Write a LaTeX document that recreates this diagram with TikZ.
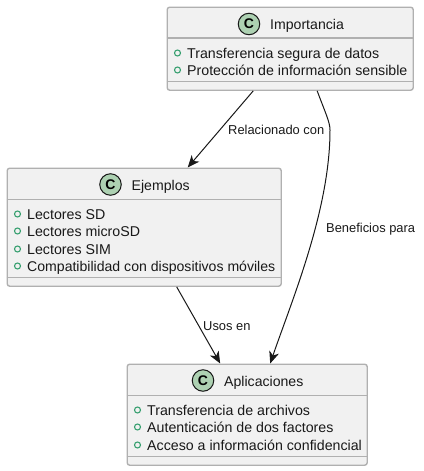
\documentclass[tikz,border=0pt]{standalone}
\usepackage{fontspec}
\setmainfont{Liberation Sans}
\usetikzlibrary{arrows.meta,calc}
\definecolor{boxfill}{HTML}{F1F1F1}
\definecolor{boxline}{HTML}{B0B0B0}
\definecolor{circfill}{HTML}{ADD1B2}
\definecolor{inkline}{HTML}{181818}
\definecolor{attr}{HTML}{38A070}
\tikzset{
  x=1pt,y=-1pt,
  classbox/.style={draw=boxline,fill=boxfill,line width=1.4pt,rounded corners=2.5pt,minimum width=#1,inner sep=0pt,anchor=north west},
  title/.style={font=\fontsize{14.1}{16}\selectfont,text=black!90,anchor=base west,inner sep=0pt},
  member/.style={font=\fontsize{14.2}{16}\selectfont,text=black!90,anchor=base west,inner sep=0pt},
  edgelabel/.style={font=\fontsize{12.9}{14}\selectfont,text=black!90,anchor=base west,inner sep=0pt},
  badge/.style={circle,draw=inkline,fill=circfill,line width=1pt,minimum size=21.5pt,inner sep=0pt,font=\fontsize{14}{14}\selectfont\bfseries},
  bullet/.style={circle,draw=attr,line width=1.1pt,fill=none,minimum size=6pt,inner sep=0pt},
  sep/.style={draw=boxline,line width=1.4pt},
  conn/.style={draw=inkline,line width=1pt,-{Stealth[length=12pt,width=10pt,inset=3.5pt]}}
}
\begin{document}
\begin{tikzpicture}
\useasboundingbox (0,0) rectangle (423,471);
% Importancia
\node[classbox=246pt,minimum height=83pt] (imp) at (166.5,6.5) {};
\draw[sep] (166.5,38) -- (412.5,38);
\draw[sep] (166.5,81.5) -- (412.5,81.5);
\node[badge] (impc) at (249,24) {C};
\node[title] (impt) at (270,29) {Importancia};
\node[bullet] (impb1) at (177.5,53) {};
\node[member] (impm1) at (187,58) {Transferencia segura de datos};
\node[bullet] (impb2) at (177.5,70) {};
\node[member] (impm2) at (187,75) {Protección de información sensible};
% Ejemplos
\node[classbox=274pt,minimum height=118pt] (ej) at (6.5,167.5) {};
\draw[sep] (6.5,199.5) -- (280.5,199.5);
\draw[sep] (6.5,277.5) -- (280.5,277.5);
\node[badge] (ejc) at (110.5,184.5) {C};
\node[title] (ejt) at (131.5,190) {Ejemplos};
\node[bullet] (ejb1) at (17.5,214) {};
\node[member] (ejm1) at (27,219) {Lectores SD};
\node[bullet] (ejb2) at (17.5,231) {};
\node[member] (ejm2) at (27,236) {Lectores microSD};
\node[bullet] (ejb3) at (17.5,249) {};
\node[member] (ejm3) at (27,254) {Lectores SIM};
\node[bullet] (ejb4) at (17.5,266) {};
\node[member,font=\fontsize{14.08}{16}\selectfont] (ejm4) at (27,271) {Compatibilidad con dispositivos móviles};
% Aplicaciones
\node[classbox=240pt,minimum height=101pt] (apl) at (126.5,363.5) {};
\draw[sep] (126.5,395.5) -- (366.5,395.5);
\draw[sep] (126.5,456.5) -- (366.5,456.5);
\node[badge] (aplc) at (203,380.5) {C};
\node[title] (aplt) at (224,386) {Aplicaciones};
\node[bullet] (aplb1) at (137.5,410) {};
\node[member] (aplm1) at (147,415) {Transferencia de archivos};
\node[bullet] (aplb2) at (137.5,427) {};
\node[member] (aplm2) at (147,432) {Autenticación de dos factores};
\node[bullet] (aplb3) at (137.5,445) {};
\node[member] (aplm3) at (147,450) {Acceso a información confidencial};
% Connectors
\draw[conn] ([xshift=-37pt]imp.south) -- ([xshift=43.5pt]ej.north);
\draw[conn] ([xshift=27pt]imp.south) .. controls (325,112) and (330,122) .. (330,130) .. controls (330,210) and (292,300) .. ([xshift=23pt]apl.north);
\draw[conn] ([xshift=32.5pt]ej.south) -- ([xshift=-27pt]apl.north);
% Edge labels
\node[edgelabel] (l1) at (228,134) {Relacionado con};
\node[edgelabel] (l2) at (326,232) {Beneficios para};
\node[edgelabel] (l3) at (203,330) {Usos en};
\end{tikzpicture}
\end{document}
